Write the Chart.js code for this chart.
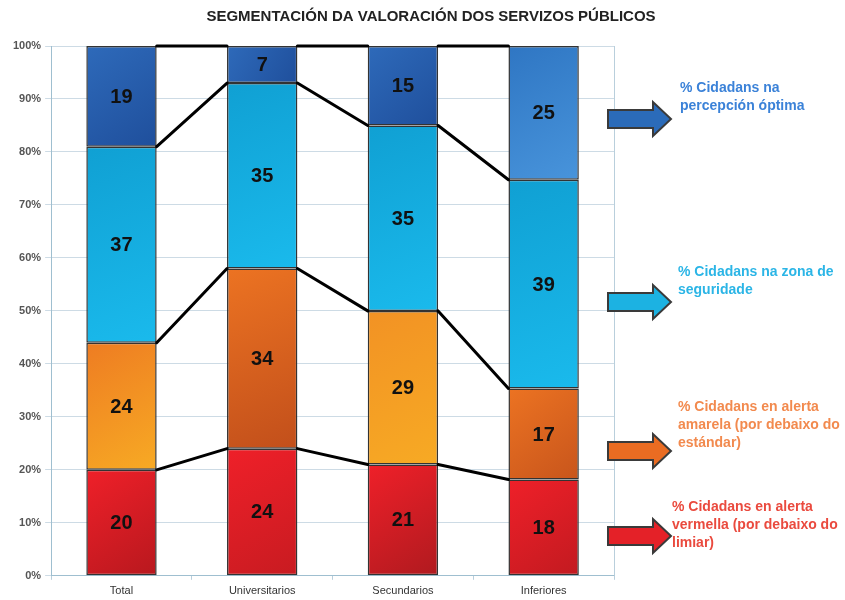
<!DOCTYPE html>
<html lang="gl">
<head>
  <meta charset="UTF-8" />
  <title>Segmentación da valoración dos servizos públicos</title>
  <script src="https://cdn.jsdelivr.net/npm/chart.js"></script>
  <style>
    body { margin: 0; background: #fff; font-family: Arial, "Liberation Sans", sans-serif; }
    #wrap { width: 845px; height: 600px; }
  </style>
</head>
<body>
  <div id="wrap"><canvas id="chart" width="845" height="600"></canvas></div>

  <script>
    // data (percentages shown in each segment)
    const categories = ["Total", "Universitarios", "Secundarios", "Inferiores"];
    const vermella   = [20, 24, 21, 18];   // alerta vermella
    const amarela    = [24, 34, 29, 17];   // alerta amarela
    const seguridade = [37, 35, 35, 39];   // zona de seguridade
    const optima     = [19, 7, 15, 25];    // percepción óptima
    const yTicks = [0, 10, 20, 30, 40, 50, 60, 70, 80, 90, 100];

    const series = [vermella, amarela, seguridade, optima];
    const seriesNames = [
      "% Cidadans en alerta vermella (por debaixo do limiar)",
      "% Cidadans en alerta amarela (por debaixo do estándar)",
      "% Cidadans na zona de seguridade",
      "% Cidadans na percepción óptima"
    ];
    const chartTitle = "SEGMENTACIÓN DA VALORACIÓN DOS SERVIZOS PÚBLICOS";

    // 100% stacked, like the original spreadsheet chart
    const totals = categories.map((c, j) => series.reduce((s, arr) => s + arr[j], 0));
    const shares = series.map(arr => arr.map((v, j) => v / totals[j] * 100));

    // fill colours per series / per bar (top-left -> bottom-right)
    const fills = [
      [["#ef2029", "#b8181e"], ["#ef2029", "#c81b21"], ["#ef2029", "#b01a1f"], ["#ef2029", "#c21a20"]],
      [["#ee7c22", "#f7aa24"], ["#ec7322", "#c24f1b"], ["#f29224", "#f7aa24"], ["#ec7322", "#c8551c"]],
      [["#10a0d3", "#1abaec"], ["#10a0d3", "#1abaec"], ["#10a0d3", "#1abaec"], ["#10a0d3", "#1abaec"]],
      [["#2e6aba", "#1f4f9c"], ["#2e6aba", "#1f4f9c"], ["#2e6aba", "#1f4f9c"], ["#2f76c3", "#4894db"]]
    ];

    const legendItems = [
      { arrow: "#e42128", text: "#ea4a3e", x: 672, y: 507, ay: 536,
        lines: ["% Cidadans en alerta", "vermella (por debaixo do", "limiar)"] },
      { arrow: "#ea6c22", text: "#f28a4e", x: 678, y: 407, ay: 451,
        lines: ["% Cidadans en alerta", "amarela (por debaixo do", "estándar)"] },
      { arrow: "#1cb2e2", text: "#2bb5e6", x: 678, y: 272, ay: 302,
        lines: ["% Cidadans na zona de", "seguridade"] },
      { arrow: "#2b6bb9", text: "#3b82d8", x: 680, y: 88, ay: 119,
        lines: ["% Cidadans na", "percepción óptima"] }
    ];

    function segmentFill(si) {
      return (c) => {
        const chart = c.chart;
        const area = chart.chartArea;
        const j = c.dataIndex;
        const pair = fills[si][j];
        if (!area || !chart.scales.x) return pair[0];
        const xs = chart.scales.x, ys = chart.scales.y;
        let lo = 0;
        for (let k = 0; k < si; k++) lo += shares[k][j];
        const hi = lo + shares[si][j];
        const cx = xs.getPixelForValue(j);
        const half = xs.width / categories.length / 4;
        const g = chart.ctx.createLinearGradient(cx - half, ys.getPixelForValue(hi), cx + half, ys.getPixelForValue(lo));
        g.addColorStop(0, pair[0]);
        g.addColorStop(1, pair[1]);
        return g;
      };
    }

    const decorations = {
      id: "decorations",
      beforeDatasetsDraw(chart) {
        const { ctx, chartArea: a } = chart;
        ctx.save();
        ctx.strokeStyle = "#b9cfdc";
        ctx.lineWidth = 1;
        ctx.beginPath();
        ctx.moveTo(a.right + 0.5, a.top);
        ctx.lineTo(a.right + 0.5, a.bottom);
        ctx.stroke();
        ctx.restore();
      },
      afterDatasetsDraw(chart) {
        const ctx = chart.ctx;
        ctx.save();
        // black lines joining the segment tops of neighbouring bars
        ctx.strokeStyle = "#000";
        ctx.lineWidth = 3;
        ctx.lineCap = "round";
        chart.data.datasets.forEach((ds, i) => {
          const bars = chart.getDatasetMeta(i).data;
          for (let j = 0; j < bars.length - 1; j++) {
            const b0 = bars[j], b1 = bars[j + 1];
            ctx.beginPath();
            ctx.moveTo(b0.x + b0.width / 2, b0.y);
            ctx.lineTo(b1.x - b1.width / 2, b1.y);
            ctx.stroke();
          }
        });
        // values inside segments
        ctx.fillStyle = "#111";
        ctx.font = "bold 20px Arial, 'Liberation Sans', sans-serif";
        ctx.textAlign = "center";
        ctx.textBaseline = "middle";
        chart.data.datasets.forEach((ds, i) => {
          chart.getDatasetMeta(i).data.forEach((bar, j) => {
            ctx.fillText(String(series[i][j]), bar.x, (bar.y + bar.base) / 2 + 1);
          });
        });
        ctx.restore();
      },
      afterDraw(chart) {
        const ctx = chart.ctx;
        ctx.save();
        // title, centred on the whole picture
        ctx.fillStyle = "#222";
        ctx.font = "bold 15px Arial, 'Liberation Sans', sans-serif";
        ctx.textAlign = "center";
        ctx.textBaseline = "middle";
        ctx.fillText(chartTitle, 431, 17);

        legendItems.forEach(it => {
          // block arrow
          const x0 = 608, xb = 653, xt = 671, cy = it.ay;
          ctx.beginPath();
          ctx.moveTo(x0, cy - 9);
          ctx.lineTo(xb, cy - 9);
          ctx.lineTo(xb, cy - 17);
          ctx.lineTo(xt, cy);
          ctx.lineTo(xb, cy + 17);
          ctx.lineTo(xb, cy + 9);
          ctx.lineTo(x0, cy + 9);
          ctx.closePath();
          ctx.fillStyle = it.arrow;
          ctx.fill();
          ctx.strokeStyle = "#3a3a3a";
          ctx.lineWidth = 2;
          ctx.lineJoin = "miter";
          ctx.stroke();
          // text
          ctx.fillStyle = it.text;
          ctx.font = "bold 14px Arial, 'Liberation Sans', sans-serif";
          ctx.textAlign = "left";
          ctx.textBaseline = "middle";
          it.lines.forEach((ln, k) => ctx.fillText(ln, it.x, it.y + k * 18));
        });
        ctx.restore();
      }
    };

    new Chart(document.getElementById("chart"), {
      type: "bar",
      data: {
        labels: categories,
        datasets: series.map((arr, i) => ({
          label: seriesNames[i],
          data: shares[i],
          backgroundColor: segmentFill(i),
          borderColor: "#333",
          borderWidth: 1.5,
          borderSkipped: false,
          barPercentage: 1,
          categoryPercentage: 0.5
        }))
      },
      options: {
        responsive: false,
        animation: false,
        layout: { padding: { left: 9, right: 231, top: 46, bottom: -3 } },
        scales: {
          x: {
            stacked: true,
            grid: { offset: true, drawOnChartArea: false, tickLength: 4, color: "#b9cfdc" },
            border: { color: "#9fbfd0" },
            ticks: { color: "#333", padding: 5, font: { family: "Arial", size: 11 } }
          },
          y: {
            stacked: true,
            min: 0,
            max: 100,
            afterBuildTicks: (scale) => { scale.ticks = yTicks.map(v => ({ value: v })); },
            grid: { color: "#cddbe5", tickLength: 6 },
            border: { color: "#9fbfd0" },
            ticks: {
              color: "#555",
              padding: 4,
              font: { family: "Arial", size: 11, weight: "bold" },
              callback: v => v + "%"
            }
          }
        },
        plugins: {
          legend: { display: false },
          tooltip: { enabled: false },
          title: { display: false }
        }
      },
      plugins: [decorations]
    });
  </script>
</body>
</html>
